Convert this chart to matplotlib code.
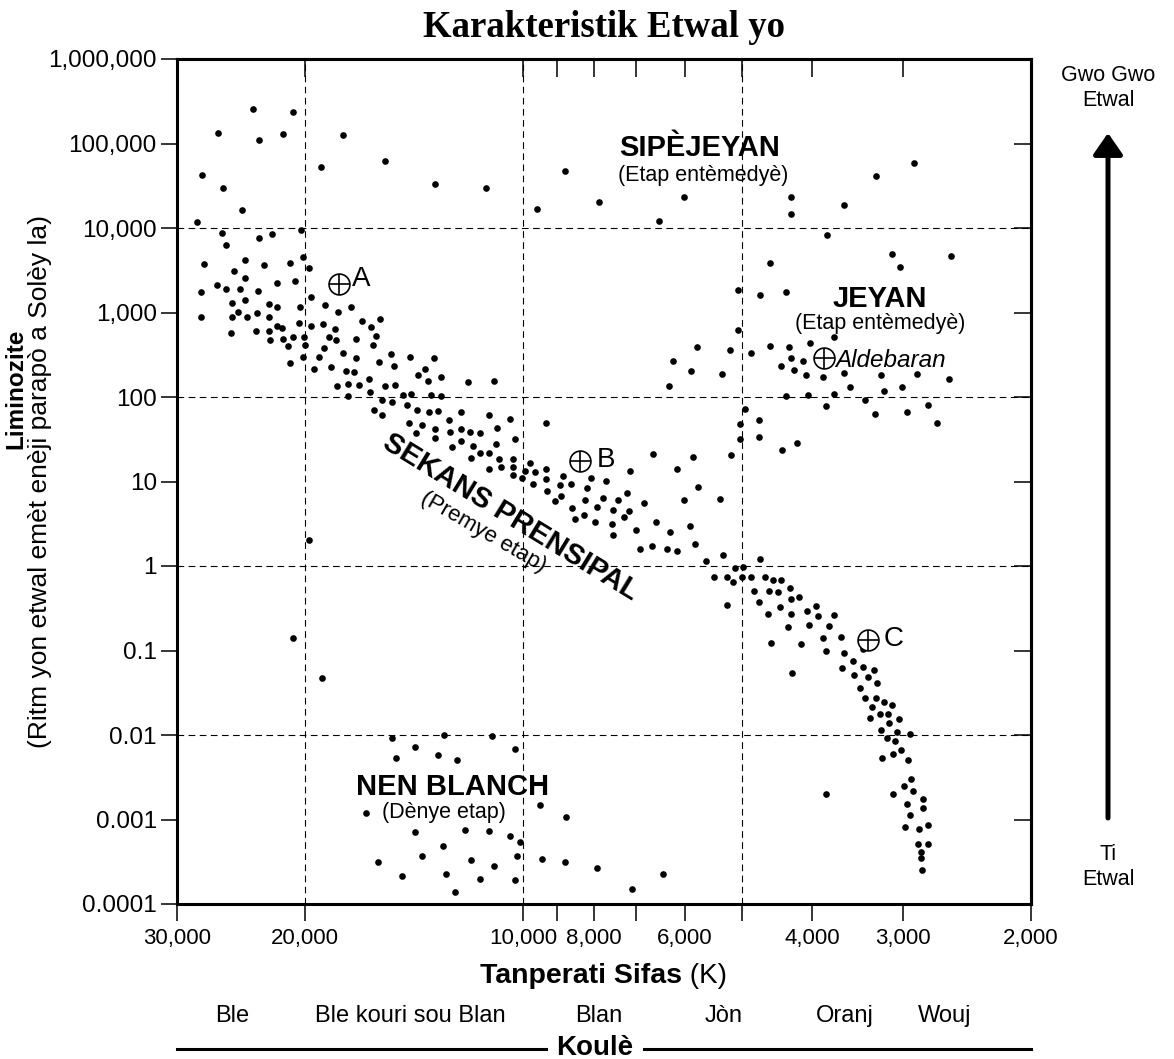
import numpy as np
import matplotlib
matplotlib.use("Agg")
import matplotlib.pyplot as plt
from matplotlib.lines import Line2D
from matplotlib.patches import FancyArrowPatch, ArrowStyle
from matplotlib.ticker import NullLocator

plt.rcParams['font.family'] = ['Liberation Sans', 'DejaVu Sans']

# star positions as (log10 T [K], log10 L [Lsun])
supergiants = [
    (4.373, 5.408), (4.317, 5.369), (4.421, 5.125), (4.364, 5.043), (4.331, 5.114),
    (4.249, 5.102), (4.443, 4.627), (4.414, 4.478), (4.279, 4.725), (4.191, 4.792),
    (4.122, 4.525), (4.388, 4.208), (4.450, 4.067), (4.052, 4.471), (3.982, 4.224),
    (3.943, 4.675), (3.896, 4.310), (3.814, 4.078), (3.779, 4.369), (3.462, 4.765),
    (3.515, 4.620), (3.558, 4.271), (3.631, 4.365), (3.631, 4.169),
]

giants = [
    (3.705, 3.271), (3.704, 2.792), (3.582, 3.914), (3.661, 3.588), (3.492, 3.694),
    (3.481, 3.537), (3.411, 3.671), (3.674, 3.204), (3.639, 3.243), (3.573, 2.706),
    (3.794, 2.431), (3.800, 2.129), (3.769, 2.310), (3.761, 2.596), (3.727, 2.267),
    (3.715, 2.553), (3.695, 1.863), (3.702, 1.686), (3.702, 1.498), (3.687, 2.518),
    (3.660, 2.608), (3.634, 2.588), (3.605, 2.639), (3.645, 2.365), (3.632, 2.463),
    (3.628, 2.322), (3.615, 2.431), (3.611, 2.259), (3.587, 2.231), (3.558, 2.286),
    (3.507, 2.255), (3.458, 2.275), (3.414, 2.216), (3.550, 2.114), (3.503, 2.067),
    (3.478, 2.118), (3.639, 2.012), (3.608, 2.020), (3.573, 2.031), (3.530, 1.965),
    (3.584, 1.894), (3.516, 1.800), (3.472, 1.820), (3.443, 1.910), (3.431, 1.690),
    (3.676, 1.722), (3.676, 1.525), (3.644, 1.373), (3.623, 1.455),
]

main_sequence = [
    (4.415, 3.945), (4.410, 3.800), (4.364, 3.878), (4.346, 3.929), (4.307, 3.973),
    (4.440, 3.573), (4.383, 3.627), (4.399, 3.494), (4.383, 3.408), (4.357, 3.557),
    (4.321, 3.584), (4.303, 3.651), (4.296, 3.522), (4.444, 3.247), (4.422, 3.329),
    (4.409, 3.275), (4.390, 3.275), (4.365, 3.251), (4.340, 3.353), (4.315, 3.369),
    (4.293, 3.184), (4.402, 3.118), (4.383, 3.149), (4.393, 3.004), (4.367, 3.000),
    (4.350, 3.098), (4.339, 3.063), (4.308, 3.067), (4.273, 3.086), (4.255, 3.004),
    (4.238, 3.063), (4.444, 2.945), (4.401, 2.941), (4.381, 2.949), (4.350, 2.945),
    (4.403, 2.757), (4.369, 2.784), (4.350, 2.780), (4.339, 2.843), (4.332, 2.816),
    (4.309, 2.871), (4.292, 2.839), (4.276, 2.863), (4.259, 2.800), (4.223, 2.894),
    (4.210, 2.831), (4.198, 2.918), (4.349, 2.675), (4.331, 2.686), (4.318, 2.714),
    (4.302, 2.714), (4.268, 2.706), (4.258, 2.675), (4.230, 2.690), (4.203, 2.718),
    (4.324, 2.608), (4.301, 2.616), (4.207, 2.616), (4.321, 2.400), (4.303, 2.478),
    (4.282, 2.471), (4.275, 2.576), (4.249, 2.525), (4.230, 2.463), (4.289, 2.333),
    (4.265, 2.353), (4.245, 2.306), (4.234, 2.294), (4.199, 2.420), (4.182, 2.506),
    (4.178, 2.361), (4.156, 2.478), (4.123, 2.463), (4.257, 2.129), (4.241, 2.153),
    (4.226, 2.145), (4.213, 2.216), (4.212, 2.055), (4.241, 2.008), (4.190, 2.133),
    (4.177, 2.145), (4.145, 2.255), (4.135, 2.329), (4.131, 2.188), (4.114, 2.235),
    (4.195, 1.969), (4.181, 1.937), (4.166, 2.024), (4.155, 2.035), (4.128, 2.024),
    (4.113, 2.008), (4.206, 1.847), (4.195, 1.788), (4.160, 1.910), (4.147, 1.847),
    (4.130, 1.820), (4.118, 1.831), (4.103, 1.722), (4.158, 1.694), (4.140, 1.663),
    (4.148, 1.573), (4.122, 1.627), (4.122, 1.518), (4.101, 1.580), (4.099, 1.408),
    (4.076, 2.176), (4.040, 2.192), (4.086, 1.827), (4.048, 1.792), (4.018, 1.741),
    (3.969, 1.690), (4.086, 1.627), (4.074, 1.580), (4.060, 1.576), (4.037, 1.639),
    (4.012, 1.502), (4.086, 1.475), (4.070, 1.424), (4.038, 1.439), (4.072, 1.282),
    (4.060, 1.337), (4.047, 1.337), (4.034, 1.267), (4.015, 1.263), (4.047, 1.153),
    (4.031, 1.176), (4.015, 1.169), (4.014, 1.082), (4.002, 1.043), (3.998, 1.125),
    (3.991, 1.220), (3.984, 1.118), (3.987, 0.973), (3.969, 1.149), (3.969, 1.024),
    (3.967, 0.882), (3.956, 0.773), (3.948, 0.831), (3.950, 0.957), (3.946, 1.067),
    (3.935, 0.976), (3.933, 0.686), (3.929, 0.561), (3.917, 0.604), (3.915, 0.784),
    (3.913, 0.918), (3.907, 1.043), (3.887, 1.008), (3.901, 0.518), (3.899, 0.694),
    (3.891, 0.808), (3.878, 0.502), (3.877, 0.667), (3.877, 0.365), (3.870, 0.784),
    (3.862, 0.580), (3.858, 0.859), (3.854, 0.655), (3.853, 1.125), (3.845, 0.427),
    (3.840, 0.200), (3.834, 0.745), (3.823, 0.239), (3.822, 1.322), (3.817, 0.522),
    (3.803, 0.200), (3.798, 0.408), (3.788, 1.145), (3.788, 0.180), (3.779, 0.776),
    (3.770, 0.471), (3.767, 1.294), (3.764, 0.263), (3.759, 0.937), (3.749, 0.063),
    (3.738, -0.125), (3.729, 0.796), (3.725, 0.129), (3.720, -0.125), (3.720, -0.459),
    (3.714, 1.318), (3.711, -0.188), (3.709, -0.024), (3.699, -0.125), (3.698, -0.008),
    (3.674, 0.082), (3.687, -0.133), (3.667, -0.133), (3.657, -0.169), (3.645, -0.169),
    (3.682, -0.298), (3.662, -0.294), (3.649, -0.302), (3.633, -0.263), (3.632, -0.392),
    (3.621, -0.365), (3.676, -0.431), (3.647, -0.486), (3.597, -0.471), (3.663, -0.569),
    (3.632, -0.565), (3.610, -0.529), (3.594, -0.596), (3.572, -0.584),
    (3.635, -0.727), (3.607, -0.699), (3.579, -0.711), (3.659, -0.908), (3.618, -0.920),
    (3.588, -0.853), (3.563, -0.837), (3.584, -1.003), (3.559, -1.030), (3.533, -0.983),
    (3.630, -1.263), (3.546, -1.125), (3.561, -1.208), (3.532, -1.200), (3.517, -1.231),
    (3.545, -1.294), (3.526, -1.318), (3.513, -1.385), (3.537, -1.440), (3.529, -1.563),
    (3.515, -1.559), (3.503, -1.610), (3.493, -1.641), (3.520, -1.665), (3.509, -1.752),
    (3.498, -1.752), (3.523, -1.803), (3.483, -1.807), (3.497, -1.862), (3.508, -1.941),
    (3.485, -1.961), (3.467, -1.988), (3.499, -2.035), (3.489, -2.075), (3.480, -2.177),
    (3.506, -2.272), (3.491, -2.225), (3.470, -2.292), (3.466, -2.524), (3.476, -2.607),
    (3.464, -2.666), (3.491, -2.698), (3.450, -2.753), (3.472, -2.816), (3.450, -2.863),
    (3.467, -2.946), (3.443, -3.060), (3.474, -3.088), (3.455, -3.115), (3.456, -3.285),
    (3.443, -3.285), (3.453, -3.380), (3.453, -3.451), (3.451, -3.596),
]

white_dwarfs = [
    (4.296, 0.306), (4.317, -0.849), (4.278, -1.326), (3.584, -2.694),
    (4.181, -2.032), (4.109, -2.004), (4.150, -2.138), (4.176, -2.276), (4.118, -2.233),
    (4.217, -2.918), (4.150, -3.147), (4.111, -3.313), (4.200, -3.498), (4.140, -3.435),
    (4.167, -3.667), (4.107, -3.648), (4.044, -2.008), (4.011, -2.166), (4.091, -2.296),
    (3.977, -2.824), (3.942, -2.966), (4.080, -3.127), (4.047, -3.135), (4.018, -3.190),
    (4.005, -3.261), (4.072, -3.474), (4.040, -3.549), (4.009, -3.427), (3.974, -3.470),
    (3.943, -3.502), (3.899, -3.569), (4.060, -3.703), (4.011, -3.715), (3.808, -3.640),
    (4.094, -3.853), (3.851, -3.825),
]

# named stars (temperature K, luminosity Lsun)
marked_names = ['A', 'B', 'C', 'Aldebaran']
marked_temp = [17950, 8350, 3350, 3860]
marked_lum = [2150, 17.5, 0.134, 290]

x_ticks = [30000, 20000, 10000, 9000, 8000, 7000, 6000, 5000, 4000, 3000, 2000]
x_ticklabels = ['30,000', '20,000', '10,000', '', '8,000', '', '6,000', '', '4,000', '3,000', '2,000']
y_ticks = [1e6, 1e5, 1e4, 1e3, 1e2, 1e1, 1, 0.1, 0.01, 0.001, 0.0001]
y_ticklabels = ['1,000,000', '100,000', '10,000', '1,000', '100', '10', '1', '0.1', '0.01', '0.001', '0.0001']
grid_x = [20000, 10000, 5000]
grid_y = [1e4, 1e2, 1, 1e-2]

colour_names = ['Ble', 'Ble kouri sou Blan', 'Blan', 'Jòn', 'Oranj', 'Wouj']
colour_x = [232, 410, 599, 724, 845, 945]  # pixel centres under the axis

W, H = 1174, 1059
fig = plt.figure(figsize=(W / 100, H / 100), dpi=100)
ax = fig.add_axes([177 / W, 1 - 904 / H, 854 / W, 845 / H])

ax.set_xscale('log')
ax.set_yscale('log')
ax.set_xlim(30000, 2000)
ax.set_ylim(1e-4, 1e6)

for gx in grid_x:
    ax.axvline(gx, color='black', lw=0.8, ls=(0, (6, 4)), zorder=1)
for gy in grid_y:
    ax.axhline(gy, color='black', lw=0.8, ls=(0, (6, 4)), zorder=1)

for group in [supergiants, giants, main_sequence, white_dwarfs]:
    arr = np.array(group)
    ax.scatter(10 ** arr[:, 0], 10 ** arr[:, 1], s=23, c='black', lw=0, zorder=3)

# circled-cross symbols for the named stars
ax.plot(marked_temp, marked_lum, ls='none', marker='o', ms=15, mfc='white',
        mec='black', mew=1.2, zorder=4)
ax.plot(marked_temp, marked_lum, ls='none', marker='+', ms=15, mec='black',
        mew=1.2, zorder=5)
label_offsets = [(16, -1.2), (18.2, -4.1), (18.5, -4.3)]
for name, t, l, off in zip(marked_names[:3], marked_temp, marked_lum, label_offsets):
    ax.annotate(name, xy=(t, l), xytext=off, textcoords='offset points',
                ha='center', va='baseline', fontsize=20)
ax.annotate(marked_names[3], xy=(marked_temp[3], marked_lum[3]), xytext=(8.4, -6.2),
            textcoords='offset points', ha='left', va='baseline', fontsize=17.5,
            style='italic')

# region labels
ax.text(0.612, 0.8856, 'SIPÈJEYAN', transform=ax.transAxes, ha='center',
        va='baseline', fontsize=21, fontweight='bold')
ax.text(0.616, 0.8556, '(Etap entèmedyè)', transform=ax.transAxes, ha='center',
        va='baseline', fontsize=15.5)
ax.text(0.823, 0.7069, 'JEYAN', transform=ax.transAxes, ha='center',
        va='baseline', fontsize=21, fontweight='bold')
ax.text(0.823, 0.6805, '(Etap entèmedyè)', transform=ax.transAxes, ha='center',
        va='baseline', fontsize=15.5)
ax.text(0.391, 0.458, 'SEKANS PRENSIPAL', transform=ax.transAxes, ha='center',
        va='center', fontsize=21, fontweight='bold', rotation=-31.5,
        rotation_mode='anchor')
ax.text(0.3587, 0.4406, '(Premye etap)', transform=ax.transAxes, ha='center',
        va='center', fontsize=16, rotation=-30, rotation_mode='anchor')
ax.text(0.323, 0.129, 'NEN BLANCH', transform=ax.transAxes, ha='center',
        va='baseline', fontsize=21, fontweight='bold')
ax.text(0.3126, 0.102, '(Dènye etap)', transform=ax.transAxes, ha='center',
        va='baseline', fontsize=15.5)

# ticks
ax.set_xticks(x_ticks)
ax.set_xticklabels(x_ticklabels)
ax.set_yticks(y_ticks)
ax.set_yticklabels(y_ticklabels)
ax.xaxis.set_minor_locator(NullLocator())
ax.yaxis.set_minor_locator(NullLocator())
ax.tick_params(axis='x', direction='out', length=12, width=1.1, labelsize=16, pad=5)
ax.tick_params(axis='y', direction='out', length=11.5, width=1.1, labelsize=17.5, pad=3)
for sp in ax.spines.values():
    sp.set_linewidth(2.2)

top = ax.secondary_xaxis('top')
top.set_xticks(x_ticks)
top.xaxis.set_minor_locator(NullLocator())
top.tick_params(direction='in', length=13, width=1.1, labeltop=False)
top.spines['top'].set_linewidth(2.2)
right = ax.secondary_yaxis('right')
right.set_yticks(y_ticks)
right.yaxis.set_minor_locator(NullLocator())
right.tick_params(direction='in', length=12, width=1.1, labelright=False)
right.spines['right'].set_linewidth(2.2)

# title and axis labels
fig.text(604 / W, 1 - 37 / H, 'Karakteristik Etwal yo', ha='center', va='baseline',
         fontsize=26.5, fontweight='bold', family='Liberation Serif')
fig.text(16 / W, 1 - 389 / H, 'Liminozite', rotation=90, ha='center', va='center',
         fontsize=17.5, fontweight='bold')
fig.text(40 / W, 1 - 482 / H, '(Ritm yon etwal emèt enèji parapò a Solèy la)',
         rotation=90, ha='center', va='center', fontsize=19)

xl = fig.text(480 / W, 1 - 983 / H, 'Tanperati Sifas', ha='left', va='baseline',
              fontsize=20.5, fontweight='bold')
fig.canvas.draw()
bb = xl.get_window_extent()
fig.text(bb.x1 / W, 1 - 983 / H, ' (K)', ha='left', va='baseline', fontsize=20)

for name, cx in zip(colour_names, colour_x):
    fig.text(cx / W, 1 - 1022 / H, name, ha='center', va='baseline', fontsize=17)

fig.text(595 / W, 1 - 1055 / H, 'Koulè', ha='center', va='baseline', fontsize=20,
         fontweight='bold')
fig.add_artist(Line2D([177 / W, 546 / W], [1 - 1049 / H] * 2, color='black', lw=2.2))
fig.add_artist(Line2D([644 / W, 1031 / W], [1 - 1049 / H] * 2, color='black', lw=2.2))

# size arrow on the right
arrow = FancyArrowPatch((1108 / W, 1 - 818 / H), (1108 / W, 1 - 133 / H),
                        transform=fig.transFigure,
                        arrowstyle=ArrowStyle('-|>', head_length=13, head_width=9),
                        mutation_scale=1, lw=3.6, color='black',
                        shrinkA=0, shrinkB=0)
fig.add_artist(arrow)
fig.text(1108 / W, 1 - 88 / H, 'Gwo Gwo\nEtwal', ha='center', va='center',
         multialignment='center', fontsize=15.5)
fig.text(1108 / W, 1 - 867 / H, 'Ti\nEtwal', ha='center', va='center',
         multialignment='center', fontsize=15.5)

fig.savefig('out.png', dpi=100)
